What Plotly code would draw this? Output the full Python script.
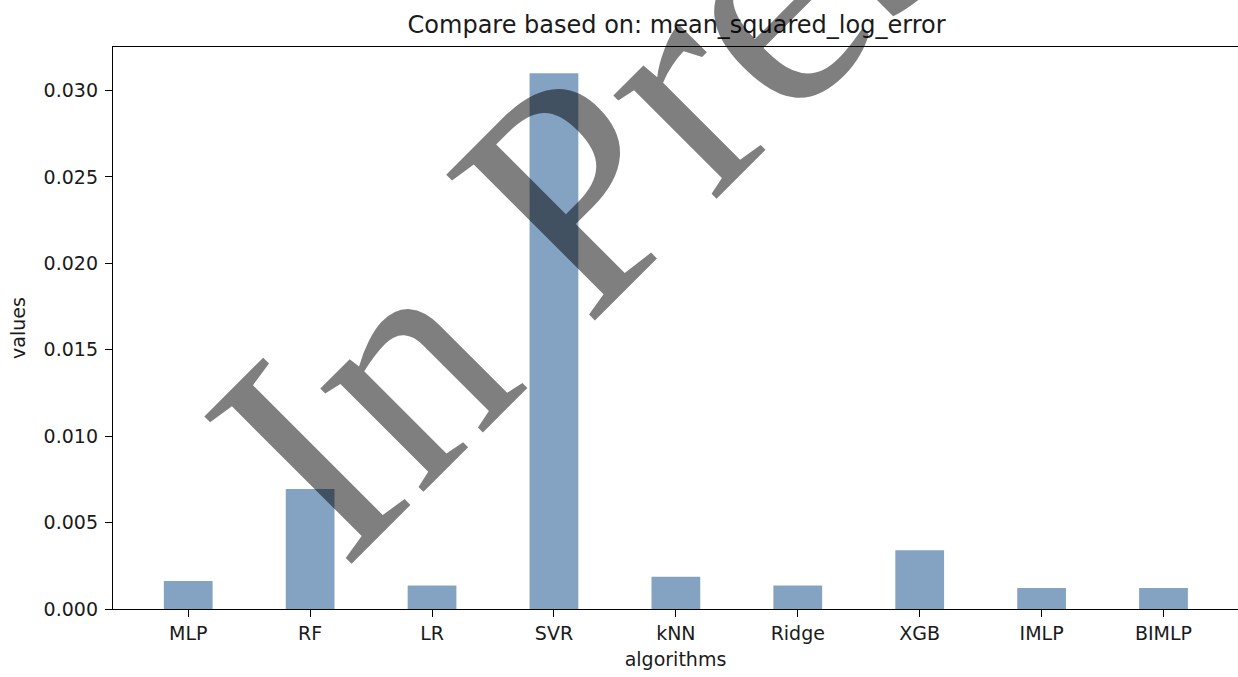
import plotly.graph_objects as go

algorithms = ["MLP", "RF", "LR", "SVR", "kNN", "Ridge", "XGB", "IMLP", "BIMLP"]
values = [0.00162, 0.00694, 0.00136, 0.0310, 0.00187, 0.00136, 0.00340, 0.00121, 0.00121]
y_ticks = [0.000, 0.005, 0.010, 0.015, 0.020, 0.025, 0.030]
title_text = "Compare based on: mean_squared_log_error"
watermark = "In Press"

font_family = "DejaVu Sans"
ink = "#1a1a1a"

W, H = 1238, 677
ML, MR, MT, MB = 113, 0, 47, 68
pw, ph = W - ML - MR, H - MT - MB
wm_px = (627, 137)

fig = go.Figure()
fig.add_trace(go.Bar(
    x=list(range(len(algorithms))),
    y=values,
    width=0.4,
    marker=dict(color="#84a3c2", line=dict(width=0)),
))

fig.add_annotation(
    text=watermark,
    x=(wm_px[0] - ML) / pw, y=(H - MB - wm_px[1]) / ph,
    xref="paper", yref="paper", xanchor="center", yanchor="middle",
    showarrow=False,
    textangle=-45,
    font=dict(family="Liberation Serif", size=318, color="rgba(0,0,0,0.5)"),
)

fig.update_layout(
    width=W, height=H,
    margin=dict(l=ML, r=MR, t=MT, b=MB),
    paper_bgcolor="white", plot_bgcolor="white",
    showlegend=False,
    title=dict(text=title_text, x=0.5465, xanchor="center", y=1 - 25 / H, yanchor="middle",
               font=dict(family=font_family, size=24, color=ink)),
    font=dict(family=font_family, size=19, color=ink),
    xaxis=dict(
        tickmode="array", tickvals=list(range(len(algorithms))), ticktext=algorithms,
        range=[-0.617, 8.611],
        showline=True, linecolor="black", linewidth=1.4, mirror=True,
        ticks="outside", ticklen=7, tickwidth=1.4, tickcolor="black",
        showgrid=False, zeroline=False,
        title=dict(text="algorithms", font=dict(size=19), standoff=9),
        tickfont=dict(size=19),
    ),
    yaxis=dict(
        range=[0, 0.03252],
        tickmode="array", tickvals=y_ticks, ticktext=[f"{v:.3f}" for v in y_ticks],
        showline=True, linecolor="black", linewidth=1.4, mirror=False,
        ticks="outside", ticklen=7, tickwidth=1.4, tickcolor="black",
        ticklabelstandoff=3,
        showgrid=False, zeroline=False,
        title=dict(text="values", font=dict(size=19), standoff=12),
        tickfont=dict(size=19),
    ),
)

fig.write_html("out.html")
